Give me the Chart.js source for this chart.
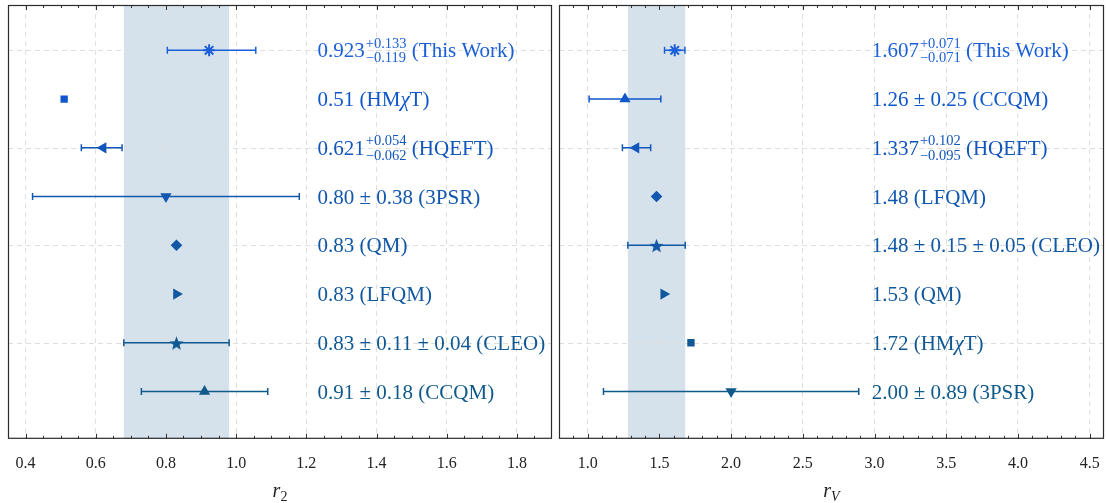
<!DOCTYPE html>
<html>
<head>
<meta charset="utf-8">
<script src="https://cdn.jsdelivr.net/npm/chart.js@4.4.0/dist/chart.umd.min.js"></script>
<style>
  html, body { margin: 0; padding: 0; background: #fff; overflow: hidden; }
  .panel { position: absolute; top: 0; height: 503px; }
  #leftPanel { left: 0; width: 556px; }
  #rightPanel { left: 551px; width: 555px; }
</style>
</head>
<body>
<div class="panel" id="leftPanel"><canvas id="r2Chart"></canvas></div>
<div class="panel" id="rightPanel"><canvas id="rvChart"></canvas></div>
<script>
// --- r2 panel (rows top to bottom)
const r2Values   = [0.923, 0.51, 0.621, 0.80, 0.83, 0.83, 0.83, 0.91];
const r2ErrPlus  = [0.133, 0, 0.054, 0.38, 0, 0, 0.15, 0.18];
const r2ErrMinus = [0.119, 0, 0.062, 0.38, 0, 0, 0.15, 0.18];
const r2Labels = [
    '0.923^{+0.133}_{\u22120.119} (This Work)',
    '0.51 (HM\u03c7T)',
    '0.621^{+0.054}_{\u22120.062} (HQEFT)',
    '0.80 \u00b1 0.38 (3PSR)',
    '0.83 (QM)',
    '0.83 (LFQM)',
    '0.83 \u00b1 0.11 \u00b1 0.04 (CLEO)',
    '0.91 \u00b1 0.18 (CCQM)'
];
const r2Markers = ['asterisk', 'square', 'triLeft', 'triDown', 'diamond', 'triRight', 'star', 'triUp'];
const r2Band = [0.68, 0.98];
const r2Ticks = [0.4, 0.6, 0.8, 1.0, 1.2, 1.4, 1.6, 1.8];

// --- rV panel
const rvValues   = [1.607, 1.26, 1.337, 1.48, 1.48, 1.53, 1.72, 2.00];
const rvErrPlus  = [0.071, 0.25, 0.102, 0, 0.20, 0, 0, 0.89];
const rvErrMinus = [0.071, 0.25, 0.095, 0, 0.20, 0, 0, 0.89];
const rvLabels = [
    '1.607^{+0.071}_{\u22120.071} (This Work)',
    '1.26 \u00b1 0.25 (CCQM)',
    '1.337^{+0.102}_{\u22120.095} (HQEFT)',
    '1.48 (LFQM)',
    '1.48 \u00b1 0.15 \u00b1 0.05 (CLEO)',
    '1.53 (QM)',
    '1.72 (HM\u03c7T)',
    '2.00 \u00b1 0.89 (3PSR)'
];
const rvMarkers = ['asterisk', 'triUp', 'triLeft', 'diamond', 'star', 'triRight', 'square', 'triDown'];
const rvBand = [1.28, 1.68];
const rvTicks = [1.0, 1.5, 2.0, 2.5, 3.0, 3.5, 4.0, 4.5];

// row colours, bright blue at the top to darker steel blue at the bottom
const rowColors = ['#1b5fd9', '#0f57ca', '#1156bb', '#1157b0', '#1057a5', '#10589d', '#0f5894', '#0f598b'];

const SERIF = '"Liberation Serif", "DejaVu Serif", serif';

// filled five-point star as a small canvas (Chart.js has no filled star)
function starImage(color, r) {
    const c = document.createElement('canvas');
    const s = Math.ceil(r * 2 + 2);
    c.width = s; c.height = s;
    const g = c.getContext('2d');
    g.fillStyle = color;
    g.beginPath();
    for (let k = 0; k < 10; k++) {
        const rad = k % 2 ? r * 0.42 : r;
        const ang = -Math.PI / 2 + k * Math.PI / 5;
        g.lineTo(s / 2 + rad * Math.cos(ang), s / 2 + 1 + rad * Math.sin(ang));
    }
    g.closePath();
    g.fill();
    return c;
}

function markerProps(kind, color) {
    switch (kind) {
        case 'asterisk': return { style: 'star', rot: 0, r: 6, bw: 2 };
        case 'square':   return { style: 'rect', rot: 0, r: 5.2, bw: 0 };
        case 'diamond':  return { style: 'rectRot', rot: 0, r: 5.8, bw: 0 };
        case 'triUp':    return { style: 'triangle', rot: 0, r: 6.5, bw: 0 };
        case 'triDown':  return { style: 'triangle', rot: 180, r: 6.5, bw: 0 };
        case 'triLeft':  return { style: 'triangle', rot: 270, r: 6.5, bw: 0 };
        case 'triRight': return { style: 'triangle', rot: 90, r: 6.5, bw: 0 };
        case 'star':     return { style: starImage(color, 7.5), rot: 0, r: 7.5, bw: 0 };
    }
}

// text with ^{sup}_{sub} stacks and an italic chi
function drawRich(ctx, str, x, y, color) {
    const parts = str.split(/(\^\{[^}]*\}_\{[^}]*\}|\u03c7)/);
    const main = '21px ' + SERIF;
    const small = '14.5px ' + SERIF;
    ctx.fillStyle = color;
    ctx.textBaseline = 'alphabetic';
    ctx.textAlign = 'left';
    parts.forEach(p => {
        if (!p) return;
        const m = p.match(/^\^\{([^}]*)\}_\{([^}]*)\}$/);
        if (m) {
            ctx.font = small;
            ctx.fillText(m[1], x + 1, y - 2.5);
            ctx.fillText(m[2], x + 1, y + 12);
            x += Math.max(ctx.measureText(m[1]).width, ctx.measureText(m[2]).width) + 1;
        } else if (p === '\u03c7') {
            ctx.font = 'italic ' + main;
            ctx.fillText(p, x, y + 7);
            x += ctx.measureText(p).width;
        } else {
            ctx.font = main;
            ctx.fillText(p, x, y + 7);
            x += ctx.measureText(p).width;
        }
    });
}

const forestPlugin = {
    id: 'forest',
    beforeDraw(chart, args, o) {
        const { ctx, chartArea: a, scales: { x, y } } = chart;
        ctx.save();
        // shaded experimental band
        const x0 = x.getPixelForValue(o.band[0]);
        const x1 = x.getPixelForValue(o.band[1]);
        ctx.fillStyle = '#d6e2eb';
        ctx.fillRect(x0, a.top, x1 - x0, a.bottom - a.top);
        // dashed horizontal grid on every other row
        ctx.strokeStyle = '#dedede';
        ctx.lineWidth = 1;
        ctx.setLineDash([5, 4]);
        [0, 2, 4, 6].forEach(r => {
            const py = Math.round(y.getPixelForValue(r)) + 0.5;
            ctx.beginPath();
            ctx.moveTo(a.left, py);
            ctx.lineTo(a.right, py);
            ctx.stroke();
        });
        ctx.restore();
    },
    beforeDatasetsDraw(chart, args, o) {
        const { ctx, scales: { x, y } } = chart;
        ctx.save();
        ctx.lineWidth = 1.5;
        o.values.forEach((v, i) => {
            if (!o.errPlus[i] && !o.errMinus[i]) return;
            const xa = x.getPixelForValue(v - o.errMinus[i]);
            const xb = x.getPixelForValue(v + o.errPlus[i]);
            const py = y.getPixelForValue(i);
            ctx.strokeStyle = rowColors[i];
            ctx.beginPath();
            ctx.moveTo(xa, py); ctx.lineTo(xb, py);
            ctx.moveTo(xa, py - 3.5); ctx.lineTo(xa, py + 3.5);
            ctx.moveTo(xb, py - 3.5); ctx.lineTo(xb, py + 3.5);
            ctx.stroke();
        });
        ctx.restore();
    },
    afterDatasetsDraw(chart, args, o) {
        const { ctx, chartArea: a, scales: { x, y } } = chart;
        ctx.save();
        // labels
        o.labels.forEach((t, i) => {
            drawRich(ctx, t, x.getPixelForValue(o.labelX), y.getPixelForValue(i), rowColors[i]);
        });
        // inward tick marks, top and bottom
        ctx.strokeStyle = '#333';
        ctx.lineWidth = 1;
        const n = Math.round((x.max - o.minorFrom) / o.minorStep);
        for (let k = 0; k <= n; k++) {
            const v = o.minorFrom + k * o.minorStep;
            const isMajor = o.ticks.some(t => Math.abs(t - v) < 1e-6);
            const len = isMajor ? 5 : 3;
            const px = Math.round(x.getPixelForValue(v)) + 0.5;
            if (px <= a.left + 1 || px >= a.right - 1) continue;
            ctx.beginPath();
            ctx.moveTo(px, a.bottom); ctx.lineTo(px, a.bottom - len);
            ctx.moveTo(px, a.top); ctx.lineTo(px, a.top + len);
            ctx.stroke();
        }
        // frame
        ctx.strokeStyle = '#2b2b2b';
        ctx.lineWidth = 1.2;
        ctx.strokeRect(a.left + 0.5, a.top + 0.5, a.right - a.left - 1, a.bottom - a.top - 1);
        // axis title: italic r with subscript
        const cx = (a.left + a.right) / 2;
        ctx.fillStyle = '#222';
        ctx.textBaseline = 'alphabetic';
        ctx.textAlign = 'left';
        ctx.font = 'italic 20px ' + SERIF;
        const w = ctx.measureText('r').width;
        ctx.font = (o.titleSubItalic ? 'italic ' : '') + '14px ' + SERIF;
        const ws = ctx.measureText(o.titleSub).width;
        const sx = cx - (w + ws) / 2;
        ctx.font = 'italic 20px ' + SERIF;
        ctx.fillText('r', sx, 497);
        ctx.font = (o.titleSubItalic ? 'italic ' : '') + '14px ' + SERIF;
        ctx.fillText(o.titleSub, sx + w, 501);
        ctx.restore();
    }
};

function makePanel(id, p) {
    const props = p.markers.map((k, i) => markerProps(k, rowColors[i]));
    return new Chart(document.getElementById(id), {
        type: 'scatter',
        plugins: [forestPlugin],
        data: {
            datasets: [{
                data: p.values.map((v, i) => ({ x: v, y: i })),
                pointStyle: props.map(m => m.style),
                pointRotation: props.map(m => m.rot),
                pointRadius: props.map(m => m.r),
                pointBorderWidth: props.map(m => m.bw),
                backgroundColor: rowColors,
                borderColor: rowColors
            }]
        },
        options: {
            responsive: true,
            maintainAspectRatio: false,
            animation: false,
            events: [],
            layout: {
                autoPadding: false,
                padding: { left: 8, right: p.padRight, top: 5, bottom: 15 }
            },
            plugins: {
                legend: { display: false },
                tooltip: { enabled: false },
                forest: {
                    values: p.values, errPlus: p.errPlus, errMinus: p.errMinus,
                    labels: p.labels, band: p.band, labelX: p.labelX,
                    ticks: p.ticks, minorFrom: p.minorFrom, minorStep: p.minorStep,
                    titleSub: p.titleSub, titleSubItalic: p.titleSubItalic
                }
            },
            scales: {
                x: {
                    type: 'linear',
                    min: p.min,
                    max: p.max,
                    afterBuildTicks: s => { s.ticks = p.ticks.map(v => ({ value: v })); },
                    // no extra side padding for the edge labels
                    afterFit: s => { s.paddingLeft = 0; s.paddingRight = 0; },
                    ticks: {
                        font: { family: SERIF, size: 16 },
                        color: '#222',
                        padding: 15,
                        maxRotation: 0,
                        autoSkip: false,
                        callback: v => v.toFixed(1)
                    },
                    grid: { color: '#e0e0e0', drawTicks: false, lineWidth: 1 },
                    border: { display: false, dash: [5, 4] }
                },
                y: {
                    type: 'linear',
                    display: false,
                    reverse: true,
                    min: -0.93,
                    max: 7.97
                }
            }
        }
    });
}

makePanel('r2Chart', {
    values: r2Values, errPlus: r2ErrPlus, errMinus: r2ErrMinus, labels: r2Labels,
    markers: r2Markers, band: r2Band, ticks: r2Ticks,
    min: 0.35, max: 1.9, minorFrom: 0.35, minorStep: 0.05, labelX: 1.232,
    padRight: 4, titleSub: '2', titleSubItalic: false
});

makePanel('rvChart', {
    values: rvValues, errPlus: rvErrPlus, errMinus: rvErrMinus, labels: rvLabels,
    markers: rvMarkers, band: rvBand, ticks: rvTicks,
    min: 0.8, max: 4.6, minorFrom: 0.8, minorStep: 0.1, labelX: 2.98,
    padRight: 2, titleSub: 'V', titleSubItalic: true
});
</script>
</body>
</html>
